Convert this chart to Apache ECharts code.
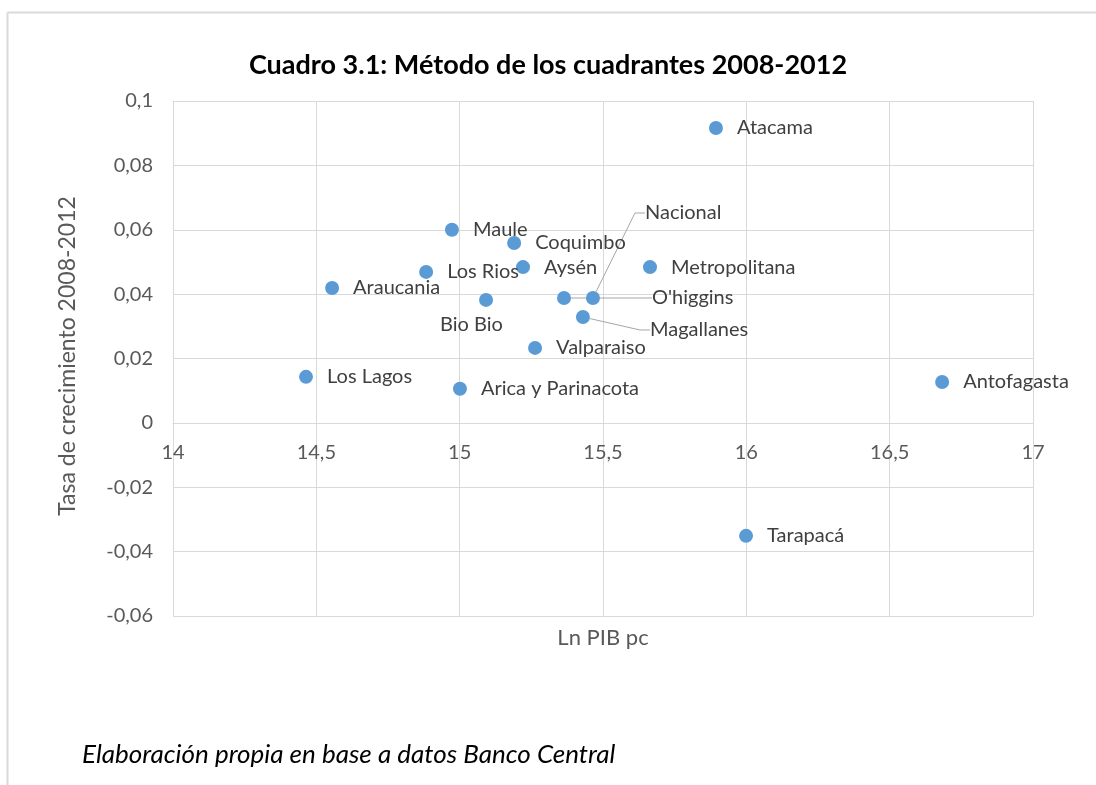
<!DOCTYPE html>
<html>
<head>
<meta charset="utf-8">
<script src="https://cdn.jsdelivr.net/npm/echarts@6/dist/echarts.min.js"></script>
<style>
  html, body { margin: 0; padding: 0; background: #fff; }
  #chart { width: 1096px; height: 785px; }
</style>
</head>
<body>
<div id="chart"></div>
<script>
// regiones
const regiones = [
  "Atacama", "Maule", "Coquimbo", "Aysén", "Metropolitana", "Los Rios",
  "Araucania", "Bio Bio", "O'higgins", "Nacional", "Magallanes",
  "Valparaiso", "Los Lagos", "Arica y Parinacota", "Antofagasta", "Tarapacá"
];
// Ln PIB per cápita
const lnPib = [
  15.894, 14.973, 15.190, 15.221, 15.664, 14.883,
  14.555, 15.092, 15.364, 15.465, 15.430,
  15.263, 14.464, 15.001, 16.683, 15.999
];
// tasa de crecimiento 2008-2012
const tasa = [
  0.0916, 0.0600, 0.0559, 0.0484, 0.0484, 0.0469,
  0.0419, 0.0382, 0.0388, 0.0388, 0.0329,
  0.0233, 0.0143, 0.0106, 0.0127, -0.0351
];
const xTicks = [14, 17, 0.5];
const yTicks = [-0.06, 0.1, 0.02];

// desplazamiento de etiquetas (px) y cuales llevan linea guia
const desplaz = {
  "Nacional": [31, -85, true],
  "O'higgins": [67, 0, true],
  "Magallanes": [46, 13, true],
  "Bio Bio": [-67, 25, false]
};

const fuente = "Lato, 'Noto Sans', sans-serif";
const gris = "#595959";
const coma = v => String(+v.toFixed(2)).replace(".", ",");

const datos = regiones.map((n, i) => {
  const d = { name: n, value: [lnPib[i], tasa[i]] };
  if (desplaz[n] && desplaz[n][2]) {
    d.labelLine = { show: true };
  }
  return d;
});

const chart = echarts.init(document.getElementById("chart"));
chart.setOption({
  backgroundColor: "#fff",
  animation: false,
  title: {
    text: "Cuadro 3.1: Método de los cuadrantes 2008-2012",
    left: "center",
    top: 47,
    textStyle: { fontFamily: fuente, fontSize: 27, fontWeight: "bold", color: "#000" }
  },
  grid: { left: 173, right: 63, top: 101, bottom: 169, outerBoundsMode: "none" },
  xAxis: {
    type: "value",
    min: xTicks[0], max: xTicks[1], interval: xTicks[2],
    axisLine: { show: true, onZero: false, lineStyle: { color: "#d9d9d9", width: 1 } },
    axisTick: { show: false },
    axisLabel: { color: gris, fontFamily: fuente, fontSize: 20, margin: 20, formatter: coma },
    splitLine: { show: true, lineStyle: { color: "#d9d9d9", width: 1 } }
  },
  yAxis: {
    type: "value",
    min: yTicks[0], max: yTicks[1], interval: yTicks[2],
    axisLine: { show: false },
    axisTick: { show: false },
    axisLabel: { color: gris, fontFamily: fuente, fontSize: 20, margin: 20, formatter: coma },
    splitLine: { show: true, lineStyle: { color: "#d9d9d9", width: 1 } }
  },
  series: [{
    type: "scatter",
    symbol: "circle",
    symbolSize: 14,
    itemStyle: { color: "#5b9bd5", opacity: 1 },
    label: {
      show: true,
      position: "right",
      distance: 14,
      formatter: "{b}",
      color: "#404040",
      fontFamily: fuente,
      fontSize: 20
    },
    labelLine: {
      lineStyle: { color: "#a6a6a6", width: 1 },
      length2: 10
    },
    labelLayout: function (p) {
      const d = desplaz[regiones[p.dataIndex]];
      return d ? { dx: d[0], dy: d[1] } : {};
    },
    data: datos
  }],
  graphic: [
    { type: "line", shape: { x1: 7.5, y1: 12.5, x2: 1096, y2: 12.5 }, style: { stroke: "#d9d9d9", lineWidth: 2 } },
    { type: "line", shape: { x1: 7.5, y1: 12.5, x2: 7.5, y2: 785 }, style: { stroke: "#d9d9d9", lineWidth: 2 } },
    {
      type: "text", x: 68, y: 356, rotation: Math.PI / 2,
      style: { text: "Tasa de crecimiento 2008-2012", fill: gris, font: "23px " + fuente, align: "center", verticalAlign: "middle" }
    },
    {
      type: "text", x: 603, y: 638,
      style: { text: "Ln PIB pc", fill: gris, font: "22px " + fuente, align: "center", verticalAlign: "middle" }
    },
    {
      type: "text", x: 82, y: 755,
      style: { text: "Elaboración propia en base a datos Banco Central", fill: "#000", font: "italic 26px " + fuente, align: "left", verticalAlign: "middle" }
    }
  ]
});

// el eje x cruza en y = 0
const y0 = chart.convertToPixel({ yAxisIndex: 0 }, 0);
const yBase = chart.convertToPixel({ yAxisIndex: 0 }, yTicks[0]);
chart.setOption({ xAxis: { offset: y0 - yBase } });
</script>
</body>
</html>
